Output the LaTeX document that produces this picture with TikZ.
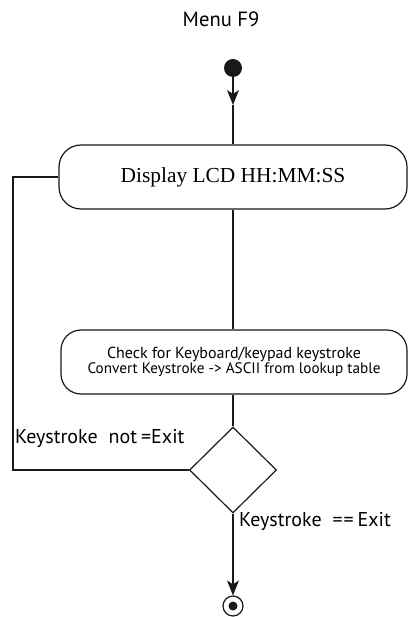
\documentclass[tikz,border=0pt]{standalone}
\usepackage{fontspec}
\setmainfont{Liberation Serif}
\newfontfamily\labelfont{PT Sans}
\usetikzlibrary{arrows.meta,shapes.geometric}
\begin{document}
\begin{tikzpicture}[x=1pt,y=-1pt,
  line/.style={line width=1.2pt,draw=black!90},
  tip/.style={-{Stealth[length=15pt,width=12pt,inset=4pt]}},
  actbox/.style={line,rounded corners=22pt,inner sep=0pt},
  caption/.style={font=\labelfont\fontsize{20}{24}\selectfont,inner sep=0pt}]
\useasboundingbox (0,0) rectangle (410,617);
% title
\node[caption,anchor=base,font=\labelfont\fontsize{20.6}{24}\selectfont] (title) at (221,27) {Menu F9};
% initial and final states
\node[circle,fill=black!90,minimum size=18pt,inner sep=0pt] (start) at (233,68) {};
\node[circle,line,minimum size=20pt,inner sep=0pt] (stop) at (233,606) {};
\node[circle,fill=black!90,minimum size=9pt,inner sep=0pt] (stopdot) at (233,606) {};
% activities
\node[actbox,minimum width=348pt,minimum height=64pt,
  font=\fontsize{21.4}{25}\selectfont] (display) at (233,177) {Display LCD HH:MM:SS};
\node[actbox,rounded corners=20pt,minimum width=346pt,minimum height=64pt,align=center,
  font=\labelfont] (check) at (234,362)
  {{\fontsize{16}{18.6}\selectfont Check for Keyboard/keypad keystroke}\\[-0.5pt]
   {\fontsize{15.2}{18.6}\selectfont Convert Keystroke -> ASCII from lookup table}};
% decision
\node[diamond,line,minimum width=87pt,minimum height=86pt,inner sep=0pt] (decide) at (233,470) {};
% connectors
\coordinate (midtip) at (233,105);
\coordinate (loop) at (13,470);
\draw[line,tip] (start) -- (midtip);
\draw[line] (midtip) -- (display.north);
\draw[line] (display.south) -- (display.south |- check.north);
\draw[line] (check.south -| decide.north) -- (decide.north);
\draw[line] (decide.west) -- (loop) |- (display.west);
\draw[line,tip] (decide.south) -- (stop.north);
% guards
\node[caption,anchor=base west] (notexit) at (15,443)
  {Keystroke\hspace{11pt}not\hspace{4pt}=Exit};
\node[caption,anchor=base west] (isexit) at (239,526)
  {Keystroke\hspace{11pt}\makebox[21pt][s]{=\hfil=}\hspace{4pt}Exit};
\end{tikzpicture}
\end{document}
